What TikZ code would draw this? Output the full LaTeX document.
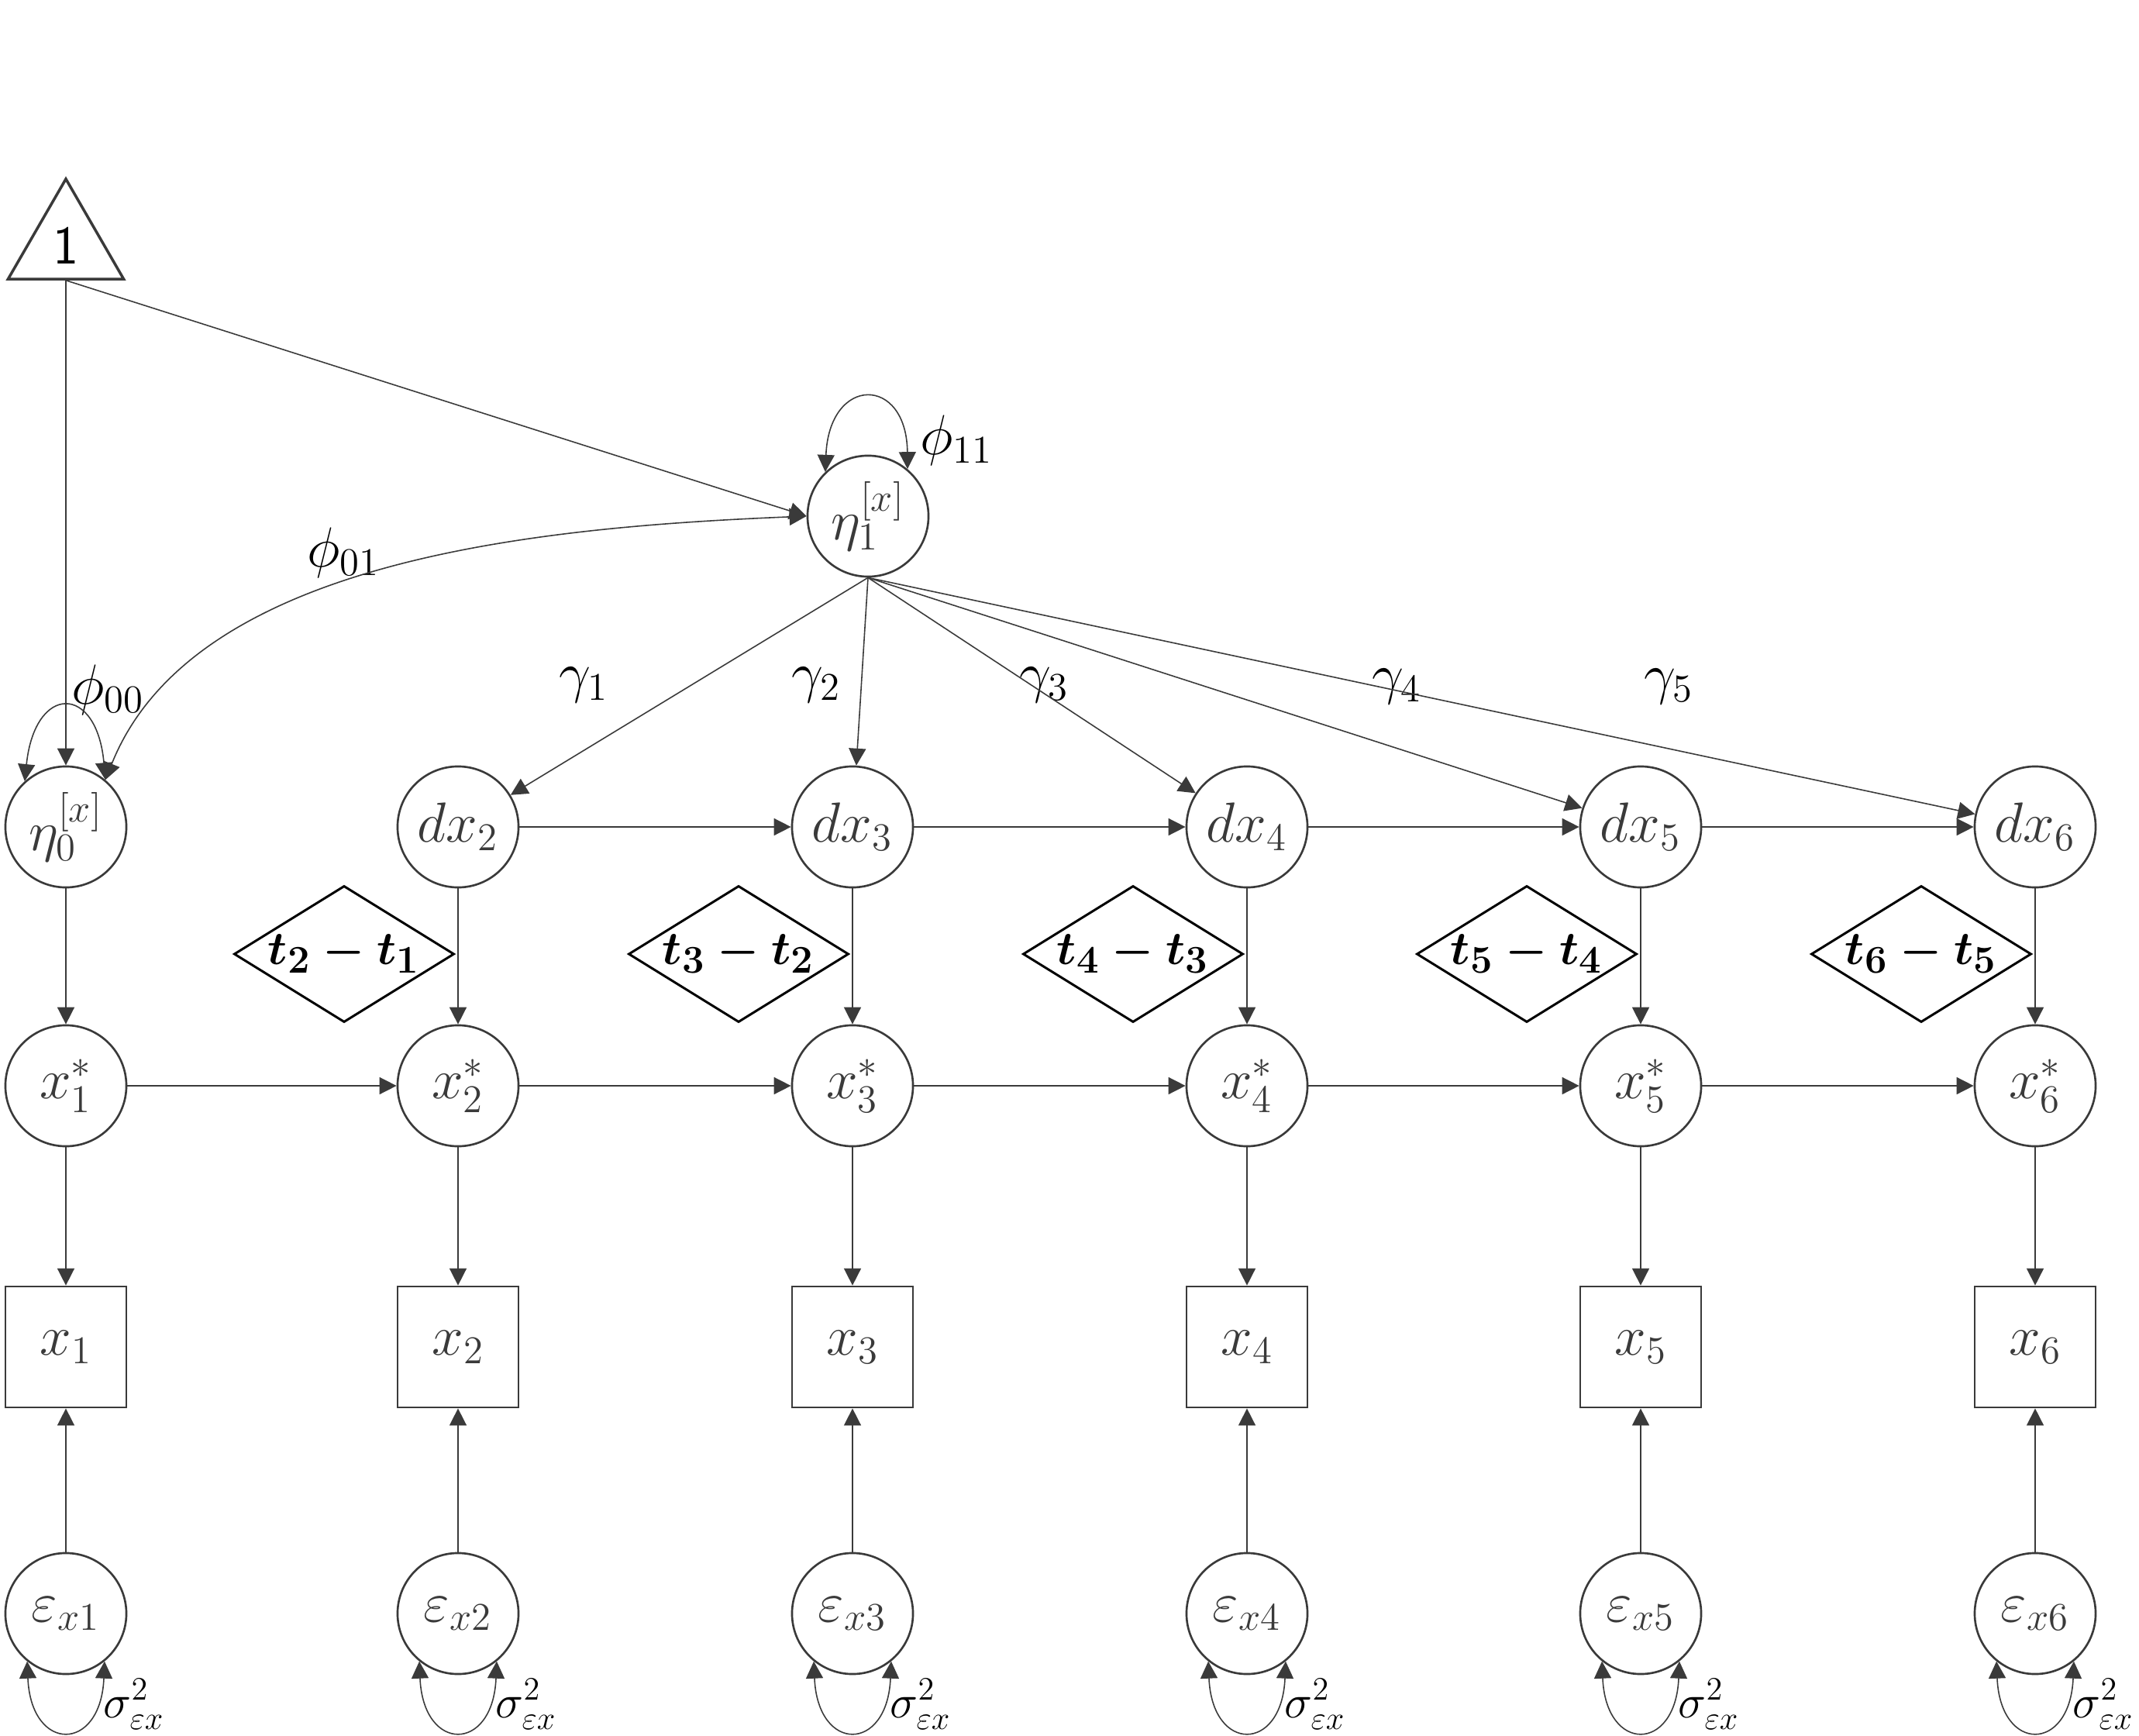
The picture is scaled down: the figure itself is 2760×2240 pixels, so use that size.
\documentclass[tikz,border=0pt]{standalone}
\usetikzlibrary{arrows.meta,shapes.geometric}
\definecolor{lc}{HTML}{3A3A3A}
\begin{document}
\begin{tikzpicture}[x=0.01cm,y=-0.01cm,
  every node/.style={font=\fontsize{20}{24}\selectfont},
  lat/.style={circle,draw=lc,line width=0.75pt,minimum size=1.56cm,inner sep=0pt,text=lc},
  obs/.style={rectangle,draw=lc,line width=0.75pt,minimum size=1.56cm,inner sep=0pt,text=lc},
  dia/.style={diamond,draw=black,line width=0.85pt,minimum width=2.84cm,minimum height=1.76cm,inner sep=0pt,aspect=1.6,font=\fontsize{19}{23}\selectfont},
  cst/.style={regular polygon,regular polygon sides=3,draw=lc,line width=1pt,minimum size=1.72cm,inner sep=0pt,text=black},
  conn/.style={draw=lc,line width=0.45pt,-{Triangle[length=0.22cm,width=0.22cm]}},
  cov/.style={draw=lc,line width=0.45pt,{Triangle[length=0.22cm,width=0.22cm]}-{Triangle[length=0.22cm,width=0.22cm]}},
  lab/.style={text=black,inner sep=1pt},
  sig/.style={text=black,inner sep=0pt,anchor=base west,font=\fontsize{18}{21}\selectfont}
]
\useasboundingbox (0,0) rectangle (2760,2240);

% constant and latent intercept/slope
\node[cst] (one) at (85,317) {\sffamily 1};
\node[lat] (eta1) at (1120,666) {$\eta_1^{[x]}$};
\node[lat] (eta0) at (85,1067) {$\eta_0^{[x]}$};

% columns
\foreach \i/\cx in {1/85,2/591,3/1100,4/1609,5/2117,6/2626}{
  \node[lat] (xs\i) at (\cx,1401) {$x_\i^*$};
  \node[obs] (x\i) at (\cx,1738) {$x_\i$};
  \node[lat] (e\i) at (\cx,2082) {$\varepsilon_{x\i}$};
  \node[sig] (s\i) at ({\cx+48},2216) {$\sigma^2_{\varepsilon x}$};
}
\foreach \i/\cx in {2/591,3/1100,4/1609,5/2117,6/2626}{
  \node[lat] (dx\i) at (\cx,1067) {$dx_\i$};
}
\foreach \i/\j/\cx in {2/1/591,3/2/1100,4/3/1609,5/4/2117,6/5/2626}{
  \node[dia] (d\i) at ({\cx-147},1231) {{\boldmath$t_\i-t_\j$}};
}

% labels
\node[lab] (p00) at (139,890) {$\phi_{00}$};
\node[lab] (p01) at (443,713) {$\phi_{01}$};
\node[lab] (p11) at (1234,568) {$\phi_{11}$};
\node[lab] (g1) at (753,884) {$\gamma_1$};
\node[lab] (g2) at (1053,884) {$\gamma_2$};
\node[lab] (g3) at (1347,884) {$\gamma_3$};
\node[lab] (g4) at (1802,886) {$\gamma_4$};
\node[lab] (g5) at (2153,886) {$\gamma_5$};

% paths from constant
\draw[conn] (one.side 2) -- (eta0);
\draw[conn] (one.side 2) -- (eta1.west);

% variances / covariance
\draw[cov] (eta0.132) .. controls (45,882) and (125,882) .. (eta0.50);
\draw[cov] (eta1.west) .. controls (700,680) and (250,720) .. (eta0.50);
\draw[cov] (eta1.134) .. controls (1070,484) and (1170,484) .. (eta1.50);

% slope to changes
\foreach \i in {2,...,6}{
  \draw[conn] (eta1.south) -- (dx\i);
  \draw[conn] (dx\i) -- (xs\i);
}
\draw[conn] (eta0) -- (xs1);

% horizontal chains
\foreach \i/\j in {2/3,3/4,4/5,5/6}{
  \draw[conn] (dx\i) -- (dx\j);
}
\foreach \i/\j in {1/2,2/3,3/4,4/5,5/6}{
  \draw[conn] (xs\i) -- (xs\j);
}

% measurement part
\foreach \i/\cx in {1/85,2/591,3/1100,4/1609,5/2117,6/2626}{
  \draw[conn] (xs\i) -- (x\i);
  \draw[conn] (e\i) -- (x\i);
  \draw[cov] (e\i.231) .. controls ({\cx-45},2262) and ({\cx+45},2262) .. (e\i.309);
}
\end{tikzpicture}
\end{document}
